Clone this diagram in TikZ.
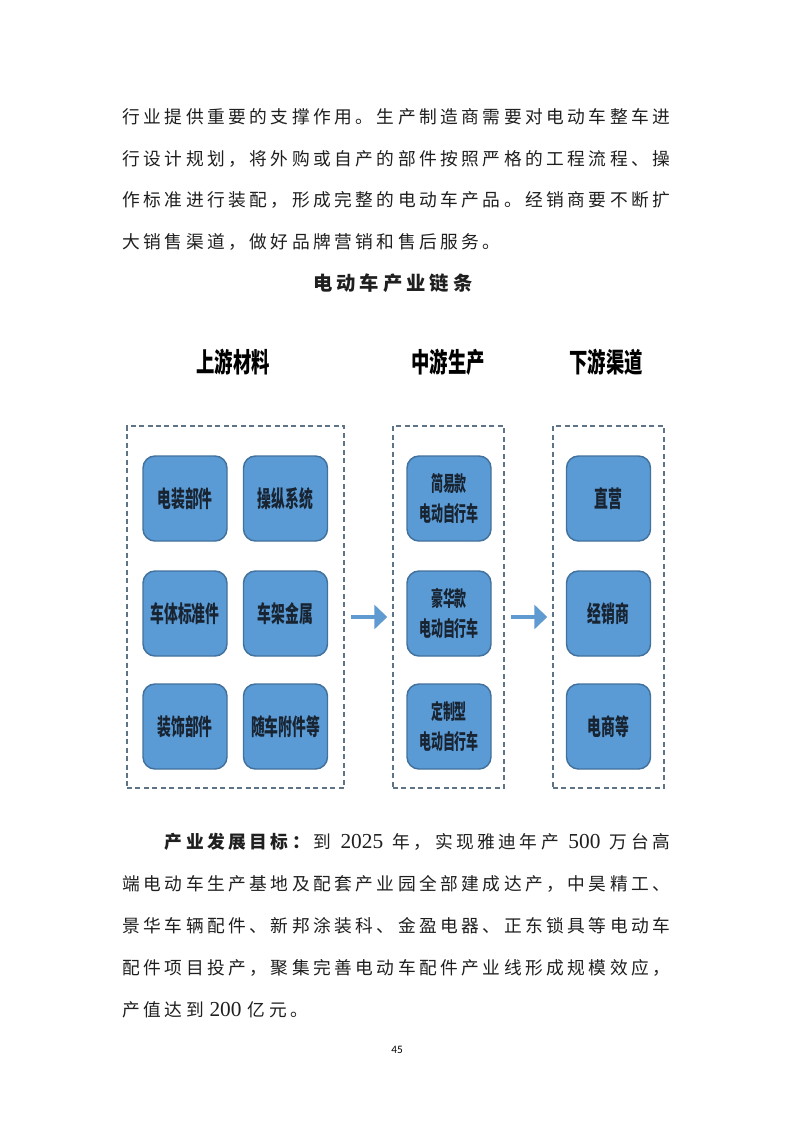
\documentclass[tikz,border=0pt]{standalone}
\usepackage{fontspec}
\usetikzlibrary{arrows.meta}
\newfontfamily\bodyfont{Noto Sans CJK SC}
\newfontfamily\digfont{Liberation Serif}
\newfontfamily\pgfont{Carlito}
\newfontfamily\dfont[FakeStretch=0.6]{Noto Sans CJK SC}
\newfontfamily\dmfont[FakeStretch=0.57]{Noto Sans CJK SC}
\newfontfamily\tfont[FakeStretch=0.68]{Noto Sans CJK SC}
\definecolor{nodefill}{RGB}{91,155,213}
\definecolor{nodeedge}{RGB}{65,113,156}
\definecolor{nodetext}{RGB}{24,36,50}
\definecolor{dashcol}{RGB}{95,115,135}
\definecolor{arrowcol}{RGB}{95,155,208}
\def\cellw{15.9pt}
\newcommand\cells[1]{\cellsi#1\relax}
\def\cellsi#1{\ifx\relax#1\else\makebox[\cellw]{#1}\expandafter\cellsi\fi}
\newcommand\digs[1]{{\digfont\fontsize{16pt}{18pt}\selectfont #1}}
\tikzset{
  box/.style={draw=nodeedge, fill=nodefill, line width=1.1pt, rounded corners=9pt,
    minimum width=63pt, minimum height=63.75pt, inner sep=0pt, align=center,
    text=nodetext, font=\dfont\bfseries\fontsize{17.25pt}{22pt}\selectfont},
  mbox/.style={box, font=\dmfont\bfseries\fontsize{15.75pt}{22.5pt}\selectfont},
  group/.style={draw=dashcol, line width=1.1pt, dash pattern=on 3.75pt off 2.6pt,
    inner sep=0pt, minimum height=271.5pt},
  flow/.style={draw=arrowcol, line width=3pt, -{Triangle[length=9.75pt,width=18pt]},
    shorten <=4.5pt, shorten >=3.75pt},
  colhead/.style={font=\tfont\bfseries\fontsize{20.25pt}{24pt}\selectfont, text=black, inner sep=0pt},
  bodyline/.style={anchor=west, inner sep=0pt, text=black!88,
    font=\bodyfont\fontsize{13.3pt}{15pt}\selectfont}
}
\begin{document}
\begin{tikzpicture}[x=0.75pt,y=-0.75pt]
\useasboundingbox (0,0) rectangle (793,1122);
\fill[white] (0,0) rectangle (793,1122);

% body text
\node[bodyline] (t1) at (120.5,117) {\cells{行业提供重要的支撑作用。生产制造商需要对电动车整车进}};
\node[bodyline] (t2) at (120.5,158.5) {\cells{行设计规划，将外购或自产的部件按照严格的工程流程、操}};
\node[bodyline] (t3) at (120.5,200) {\cells{作标准进行装配，形成完整的电动车产品。经销商要不断扩}};
\node[bodyline] (t4) at (120.5,241.5) {\cells{大销售渠道，做好品牌营销和售后服务。}};
\node[bodyline, anchor=center, font=\bodyfont\bfseries\fontsize{14.5pt}{16pt}\selectfont] (title) at (393,283)
  {\def\cellw{17.5pt}\cells{电动车产业链条}};

% column headings
\node[colhead] (h1) at (233,362) {上游材料};
\node[colhead] (h2) at (448,362) {中游生产};
\node[colhead] (h3) at (606,362) {下游渠道};

% dashed groups
\node[group, minimum width=162.75pt] (gL) at (235.5,607) {};
\node[group, minimum width=83.25pt] (gM) at (448.5,607) {};
\node[group, minimum width=83.25pt] (gR) at (608.5,607) {};

% upstream
\node[box] (u11) at (185,498.5) {电装部件};
\node[box] (u12) at (285.5,498.5) {操纵系统};
\node[box] (u21) at (185,613.5) {车体标准件};
\node[box] (u22) at (285.5,613.5) {车架金属};
\node[box] (u31) at (185,726.5) {装饰部件};
\node[box] (u32) at (285.5,726.5) {随车附件等};

% midstream
\node[mbox] (m1) at (449,498.5) {简易款\\电动自行车};
\node[mbox] (m2) at (449,613.5) {豪华款\\电动自行车};
\node[mbox] (m3) at (449,726.5) {定制型\\电动自行车};

% downstream
\node[box] (d1) at (608.5,498.5) {直营};
\node[box] (d2) at (608.5,613.5) {经销商};
\node[box] (d3) at (608.5,726.5) {电商等};

% arrows
\coordinate (ay) at (0,617);
\draw[flow] (gL.east |- ay) -- (gM.west |- ay);
\draw[flow] (gM.east |- ay) -- (gR.west |- ay);

% bottom paragraph
\node[bodyline] (b1) at (162.9,842) {\hbox to 381.5pt{{\bfseries\cells{产业发展目标：}}\cells{到}\hfil\digs{2025}\hfil\cells{年，实现雅迪年产}\hfil\digs{500}\hfil\cells{万台高}}};
\node[bodyline] (b2) at (120.5,884) {\cells{端电动车生产基地及配套产业园全部建成达产，中昊精工、}};
\node[bodyline] (b3) at (120.5,926) {\cells{景华车辆配件、新邦涂装科、金盈电器、正东锁具等电动车}};
\node[bodyline] (b4) at (120.5,968) {\cells{配件项目投产，聚集完善电动车配件产业线形成规模效应，}};
\node[bodyline] (b5) at (120.5,1010) {\cells{产值达到}\kern3pt\digs{200}\kern3.5pt\cells{亿元。}};

\node[font=\pgfont\fontsize{8.5pt}{10pt}\selectfont, inner sep=0pt] (pg) at (397,1050) {45};
\end{tikzpicture}
\end{document}
